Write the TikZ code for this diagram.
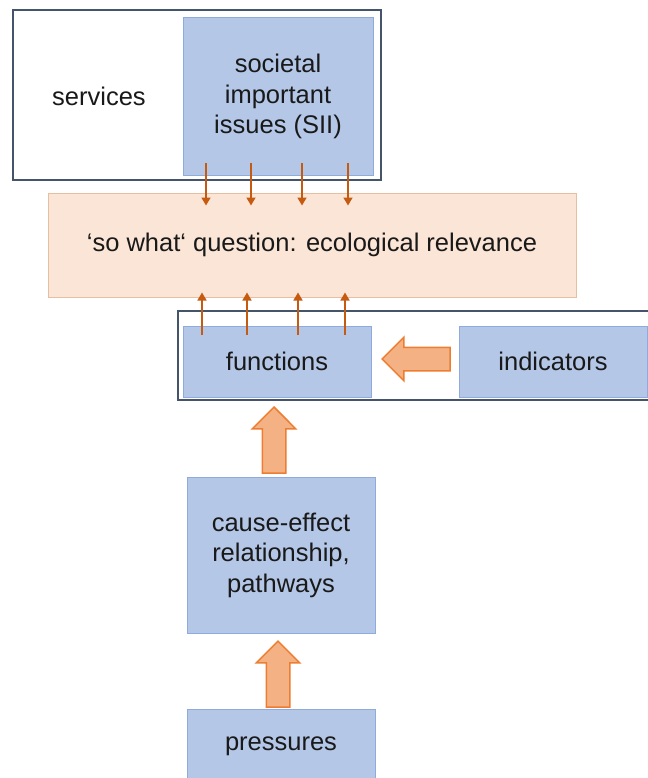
\documentclass[tikz,border=0pt]{standalone}
\usepackage{fontspec}
\setmainfont{Liberation Sans}
\usetikzlibrary{arrows.meta,shapes.arrows,calc}

\definecolor{boxblue}{RGB}{180,199,231}
\definecolor{boxblueline}{RGB}{143,170,220}
\definecolor{peach}{RGB}{251,229,214}
\definecolor{peachline}{RGB}{231,190,160}
\definecolor{frameline}{RGB}{68,84,106}
\definecolor{thinarrow}{RGB}{197,90,17}
\definecolor{blockfill}{RGB}{244,177,131}
\definecolor{blockline}{RGB}{237,125,49}

\tikzset{
  txt/.style={font=\fontsize{25.5}{30.5}\selectfont, text=black!90, align=center},
  bluebox/.style={txt, draw=boxblueline, fill=boxblue, line width=1pt, inner sep=0pt},
  framebox/.style={draw=frameline, line width=1.5pt, fill=white, inner sep=0pt},
  thinarr/.style={draw=thinarrow, line width=1.5pt, -{Triangle[length=8pt,width=9pt]}},
  blockarr/.style={single arrow, draw=blockline, fill=blockfill, line width=1.5pt,
    single arrow head extend=10pt, single arrow head indent=0pt,
    inner sep=11pt, anchor=tip}
}

\begin{document}
\begin{tikzpicture}[x=1pt,y=-1pt]
\useasboundingbox (0,0) rectangle (647,778);
\fill[white] (0,0) rectangle (647,778);

% top group
\node[framebox, minimum width=368pt, minimum height=170pt] (servframe) at (197,95) {};
\node[txt] (serv) at (99,96) {services};
\node[bluebox, minimum width=190pt, minimum height=157pt] (sii) at (278,96.5) {societal\\important\\issues (SII)};

% relevance
\node[txt, draw=peachline, fill=peach, line width=1pt, minimum width=528pt, minimum height=104pt] (rel) at (312,245) {‘so what‘ question: ecological relevance};

% functions group
\node[framebox, minimum width=474pt, minimum height=89pt] (fngroup) at (415,355.5) {};
\node[bluebox, minimum width=188pt, minimum height=71pt] (fn) at (277,361.5) {functions};
\node[bluebox, minimum width=188pt, minimum height=71pt] (ind) at (553,361.5) {indicators};

% lower boxes
\node[bluebox, minimum width=188pt, minimum height=156pt] (cause) at (281,555) {cause-effect\\relationship,\\pathways};
\node[bluebox, minimum width=188pt, minimum height=74pt] (pres) at (281,746) {pressures};

% thin arrows
\foreach \x in {206,251,302,348}
  \draw[thinarr] ($(sii.south)+(\x-278,-12)$) -- ($(rel.north)+(\x-312,13)$);
\foreach \x in {202,247,298,345}
  \draw[thinarr] ($(fn.north)+(\x-277,9)$) -- ($(rel.south)+(\x-312,-5)$);

% block arrows
\node[blockarr, shape border rotate=180, minimum height=68pt] (indarr) at (381,359) {};
\node[blockarr, shape border rotate=90, minimum height=66pt] (causearr) at (274,406) {};
\node[blockarr, shape border rotate=90, minimum height=66pt] (presarr) at (278,640) {};
\end{tikzpicture}
\end{document}
